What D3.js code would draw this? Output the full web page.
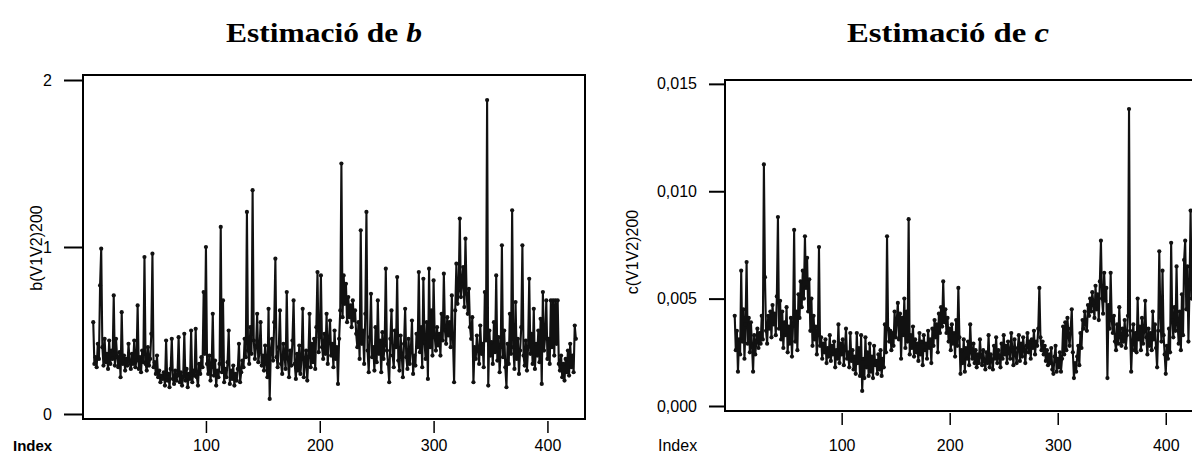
<!DOCTYPE html>
<html><head><meta charset="utf-8">
<script src="https://cdn.jsdelivr.net/npm/d3@7"></script>
<style>body{margin:0;background:#fff}svg{display:block}</style>
</head><body><svg id="chart" width="1192" height="455"></svg>
<script>
// ---- data (index runs 1..425) ----
const bValues = [
0.55,0.30,0.34,0.28,0.42,0.33,0.77,0.99,0.40,0.29,0.45,0.31,0.36,0.27,0.44,0.30,0.38,0.33,0.71,0.29,0.45,0.34,0.28,0.37,0.22,
0.61,0.30,0.35,0.26,0.33,0.29,0.42,0.31,0.27,0.36,0.30,0.44,0.28,0.32,0.65,0.27,0.34,0.25,0.38,0.31,0.94,0.30,0.26,0.40,0.29,
0.33,0.48,0.96,0.28,0.31,0.24,0.35,0.22,0.26,0.19,0.23,0.21,0.25,0.17,0.44,0.20,0.24,0.16,0.27,0.45,0.21,0.18,0.26,0.20,0.23,
0.46,0.19,0.25,0.17,0.22,0.48,0.20,0.27,0.16,0.24,0.21,0.50,0.19,0.26,0.23,0.51,0.22,0.17,0.30,0.24,0.34,0.28,0.73,0.36,1.00,
0.30,0.24,0.35,0.20,0.28,0.60,0.23,0.32,0.17,0.26,0.22,0.30,1.12,0.25,0.68,0.19,0.27,0.22,0.31,0.50,0.18,0.26,0.21,0.29,0.17,
0.24,0.20,0.27,0.42,0.19,0.25,0.32,0.28,0.45,0.34,1.21,0.38,0.30,0.52,0.36,1.34,0.44,0.33,0.40,0.60,0.31,0.37,0.55,0.29,0.35,
0.26,0.41,0.30,0.22,0.63,0.09,0.38,0.45,0.32,0.55,0.93,0.34,0.28,0.40,0.62,0.30,0.24,0.42,0.35,0.27,0.73,0.33,0.22,0.38,0.29,
0.44,0.68,0.30,0.21,0.36,0.26,0.41,0.24,0.33,0.63,0.22,0.30,0.38,0.20,0.34,0.60,0.28,0.42,0.31,0.45,0.27,0.52,0.85,0.37,0.46,
0.83,0.40,0.33,0.48,0.36,0.60,0.30,0.44,0.56,0.35,0.42,0.28,0.50,0.33,0.40,0.18,0.45,0.62,1.50,0.58,0.83,0.66,0.78,0.55,0.70,
0.58,0.65,0.52,0.68,0.56,0.62,0.48,0.40,0.55,0.33,1.10,0.42,0.50,0.30,0.60,1.21,0.38,0.25,0.46,0.72,0.34,0.40,0.26,0.52,0.31,
0.68,0.36,0.44,0.25,0.49,0.33,0.41,0.87,0.38,0.30,0.19,0.45,0.62,0.35,0.28,0.50,0.40,0.82,0.32,0.26,0.47,0.36,0.22,0.42,0.63,
0.34,0.27,0.45,0.30,0.38,0.56,0.24,0.35,0.29,0.48,0.40,0.85,0.37,0.52,0.28,0.81,0.43,0.33,0.55,0.21,0.87,0.40,0.62,0.35,0.80,
0.46,0.38,0.52,0.41,0.48,0.35,0.60,0.44,0.84,0.50,0.42,0.58,0.47,0.55,0.40,0.71,0.45,0.19,0.62,0.90,0.66,0.74,1.17,0.70,0.78,
0.88,0.64,1.05,0.72,0.60,0.75,0.52,0.45,0.58,0.19,0.40,0.33,0.47,0.38,0.30,0.53,0.36,0.42,0.28,0.73,0.44,1.88,0.17,0.50,0.35,
0.43,0.30,0.55,0.37,0.83,0.32,0.46,0.25,0.40,1.01,0.34,0.50,0.28,0.16,0.42,0.30,0.60,0.36,1.22,0.40,0.27,0.67,0.33,0.45,0.24,
0.38,0.52,1.01,0.35,0.29,0.44,0.26,0.40,0.81,0.36,0.48,0.30,0.63,0.27,0.42,0.35,0.50,0.31,0.57,0.18,0.73,0.38,0.46,0.68,0.33,
0.45,0.30,0.68,0.40,0.68,0.35,0.68,0.42,0.68,0.30,0.26,0.35,0.22,0.30,0.20,0.33,0.25,0.38,0.23,0.42,0.28,0.35,0.25,0.53,0.45
];
const cValues = [
0.0042,0.0026,0.0035,0.0016,0.0031,0.0024,0.0063,0.0030,0.0045,0.0022,0.0038,0.0067,0.0029,0.0041,0.0025,0.0039,0.0028,0.0016,0.0033,0.0024,0.0030,0.0036,0.0027,0.0034,0.0029,
0.0042,0.0031,0.01125,0.0060,0.0035,0.0029,0.0042,0.0036,0.0044,0.0032,0.0047,0.0038,0.0043,0.0033,0.0051,0.0088,0.0036,0.0049,0.0031,0.0044,0.0027,0.0039,0.0033,0.0046,0.0025,
0.0037,0.0029,0.0041,0.0023,0.0038,0.0082,0.0030,0.0044,0.0026,0.0052,0.0041,0.0058,0.0046,0.0063,0.0050,0.0079,0.0055,0.0069,0.0044,0.0059,0.0035,0.0050,0.0028,0.0042,0.0031,
0.0037,0.0024,0.0033,0.0074,0.0028,0.0032,0.0022,0.0029,0.0025,0.0031,0.0020,0.0027,0.0023,0.0033,0.0021,0.0028,0.0024,0.0030,0.0018,0.0026,0.0022,0.0038,0.0020,0.0029,0.0024,
0.0031,0.0019,0.0027,0.0036,0.0022,0.0025,0.0018,0.0034,0.0021,0.0026,0.0017,0.0023,0.0015,0.0034,0.0020,0.0027,0.0014,0.0033,0.0007,0.0022,0.0013,0.0032,0.0018,0.0025,0.0014,
0.0029,0.0016,0.0023,0.0013,0.0028,0.0019,0.0021,0.0015,0.0024,0.0017,0.0026,0.0014,0.0022,0.0018,0.0038,0.0025,0.0079,0.0036,0.0030,0.0035,0.0026,0.0034,0.0028,0.0044,0.0032,
0.0040,0.0048,0.0031,0.0043,0.0022,0.0041,0.0033,0.0050,0.0027,0.0044,0.0030,0.0087,0.0024,0.0033,0.0027,0.0037,0.0023,0.0031,0.0025,0.0029,0.0021,0.0034,0.0024,0.0030,0.0019,
0.0033,0.0026,0.0029,0.0022,0.0035,0.0027,0.0031,0.0020,0.0036,0.0028,0.0040,0.0032,0.0038,0.0025,0.0043,0.0034,0.0046,0.0037,0.0058,0.0039,0.0045,0.0034,0.0041,0.0030,0.0036,
0.0026,0.0038,0.0029,0.0034,0.0023,0.0040,0.0028,0.0055,0.0032,0.0015,0.0026,0.0020,0.0031,0.0016,0.0027,0.0022,0.0030,0.0019,0.0038,0.0025,0.0022,0.0029,0.0020,0.0026,0.0018,
0.0024,0.0020,0.0031,0.0023,0.0019,0.0026,0.0021,0.0017,0.0025,0.0020,0.0033,0.0018,0.0024,0.0021,0.0017,0.0028,0.0022,0.0032,0.0020,0.0026,0.0023,0.0018,0.0029,0.0022,0.0033,
0.0024,0.0028,0.0020,0.0030,0.0025,0.0022,0.0034,0.0026,0.0019,0.0031,0.0024,0.0020,0.0027,0.0033,0.0021,0.0029,0.0023,0.0032,0.0026,0.0020,0.0028,0.0034,0.0025,0.0030,0.0022,
0.0031,0.0027,0.0035,0.0024,0.0030,0.0028,0.0036,0.0055,0.0032,0.0026,0.0030,0.0024,0.0028,0.0021,0.0026,0.0019,0.0024,0.0020,0.0027,0.0017,0.0015,0.0023,0.0028,0.0016,0.0022,
0.0018,0.0025,0.0016,0.0022,0.0037,0.0024,0.0039,0.0026,0.0041,0.0033,0.0028,0.0036,0.0045,0.0025,0.0013,0.0020,0.0016,0.0023,0.0028,0.0019,0.0034,0.0027,0.0040,0.0036,0.0044,
0.0038,0.0035,0.0047,0.0042,0.0050,0.0044,0.0053,0.0048,0.0041,0.0056,0.0045,0.0052,0.0040,0.0058,0.0077,0.0050,0.0043,0.0062,0.0049,0.0055,0.0013,0.0047,0.0036,0.0062,0.0040,
0.0034,0.0042,0.0030,0.0026,0.0038,0.0029,0.0046,0.0032,0.0028,0.0036,0.0030,0.0040,0.0027,0.0033,0.0042,0.01383,0.0035,0.0016,0.0030,0.0038,0.0026,0.0034,0.0025,0.0050,0.0031,
0.0037,0.0026,0.0041,0.0029,0.0035,0.0049,0.0032,0.0024,0.0036,0.0028,0.0034,0.0026,0.0044,0.0031,0.0038,0.0027,0.0018,0.0035,0.0072,0.0042,0.0030,0.0063,0.0033,0.0024,0.0015,
0.0028,0.0022,0.0036,0.0025,0.0076,0.0040,0.0032,0.0046,0.0035,0.0065,0.0038,0.0029,0.0044,0.0026,0.0052,0.0033,0.0068,0.0077,0.0045,0.0065,0.0030,0.0055,0.0091,0.0050,0.0070
];
const xTicks = [100, 200, 300, 400];
const bTicks = [0, 1, 2];
const bTickLabels = ["0", "1", "2"];
const cTicks = [0, 0.005, 0.010, 0.015];
const cTickLabels = ["0,000", "0,005", "0,010", "0,015"];
const bTitle = ["Estimació de ", "b"];
const cTitle = ["Estimació de ", "c"];
const bYLabel = "b(V1V2)200";
const cYLabel = "c(V1V2)200";
const xLabel = "Index";

const svg = d3.select("#chart");
svg.append("rect").attr("width",1192).attr("height",455).attr("fill","#fff");

function panel(cfg){
  const g = svg.append("g");
  const x = d3.scaleLinear().domain([-8, 433]).range([cfg.left, cfg.right]);
  const y = d3.scaleLinear().domain(cfg.yDomain).range([cfg.bottom, cfg.top]);
  const font = "'Liberation Sans', Arial, sans-serif";

  // y axis ticks
  const ya = d3.axisLeft(y).tickValues(cfg.yTicks)
    .tickFormat((d,i)=>cfg.yTickLabels[i]).tickSize(cfg.yTickLen).tickPadding(cfg.yPad);
  const yg = g.append("g").attr("transform",`translate(${cfg.left},0)`).call(ya);
  yg.select(".domain").remove();
  yg.selectAll("line").attr("stroke","#000").attr("stroke-width",2);
  yg.selectAll("text").attr("font-family",font).attr("font-size",16).attr("fill","#000");

  // x axis ticks
  const xa = d3.axisBottom(x).tickValues(xTicks).tickFormat(d3.format("d"))
    .tickSize(12).tickPadding(cfg.xPad);
  const xg = g.append("g").attr("transform",`translate(0,${cfg.bottom+2})`).call(xa);
  xg.select(".domain").remove();
  xg.selectAll("line").attr("stroke","#000").attr("stroke-width",1.5);
  xg.selectAll("text").attr("font-family",font).attr("font-size",16).attr("fill","#000")
    .attr("y", null).attr("dy", null)
    .attr("y", 451 - (cfg.bottom+2));

  // box
  g.append("rect").attr("x",cfg.left).attr("y",cfg.top)
    .attr("width",cfg.right-cfg.left).attr("height",cfg.bottom-cfg.top)
    .attr("fill","none").attr("stroke","#000").attr("stroke-width",2);

  // series
  const pts = cfg.values.map((v,i)=>[i+1, v]);
  g.append("path").datum(pts)
    .attr("d", d3.line().x(d=>x(d[0])).y(d=>y(d[1])))
    .attr("fill","none").attr("stroke","#111").attr("stroke-width",2.1).attr("stroke-linejoin","miter");
  g.selectAll("circle.pt").data(pts).join("circle").attr("class","pt")
    .attr("cx",d=>x(d[0])).attr("cy",d=>y(d[1])).attr("r",2.1).attr("fill","#111");

  // Index label
  g.append("text").attr("x",cfg.indexX).attr("y",451).attr("font-family",font)
    .attr("font-weight",cfg.indexBold ? "bold" : "normal")
    .attr("font-size",cfg.indexBold ? 15 : 16).attr("fill","#000").text(xLabel);

  // y label
  g.append("text").attr("transform",`translate(${cfg.ylabX},${cfg.ylabY}) rotate(-90)`)
    .attr("text-anchor","middle").attr("font-family",font).attr("font-size",16)
    .attr("fill","#000").text(cfg.yLabel);

  // title
  const t = g.append("text").attr("font-family","'Liberation Serif','Times New Roman',serif")
    .attr("font-weight","bold").attr("font-size",28).attr("fill","#000").attr("text-anchor","middle");
  t.append("tspan").text(cfg.title[0]);
  t.append("tspan").attr("font-style","italic").text(cfg.title[1]);
  const w = t.node().getComputedTextLength();
  t.attr("transform",`translate(${cfg.titleX},${42}) scale(${cfg.titleW/w},1)`);
}

panel({left:83,right:585,top:75,bottom:419,yDomain:[-0.03,2.03],yTicks:bTicks,yTickLabels:bTickLabels,
  yTickLen:19,yPad:12,xPad:10,values:bValues,indexX:13,indexBold:true,ylabX:42,ylabY:248,yLabel:bYLabel,
  title:bTitle,titleX:324,titleW:196});
panel({left:725,right:1201.4,top:80,bottom:411,yDomain:[-0.000233,0.01518],yTicks:cTicks,yTickLabels:cTickLabels,
  yTickLen:16,yPad:12,xPad:10,values:cValues,indexX:658,indexBold:false,ylabX:638,ylabY:252,yLabel:cYLabel,
  title:cTitle,titleX:948,titleW:202});
</script>
</body></html>
